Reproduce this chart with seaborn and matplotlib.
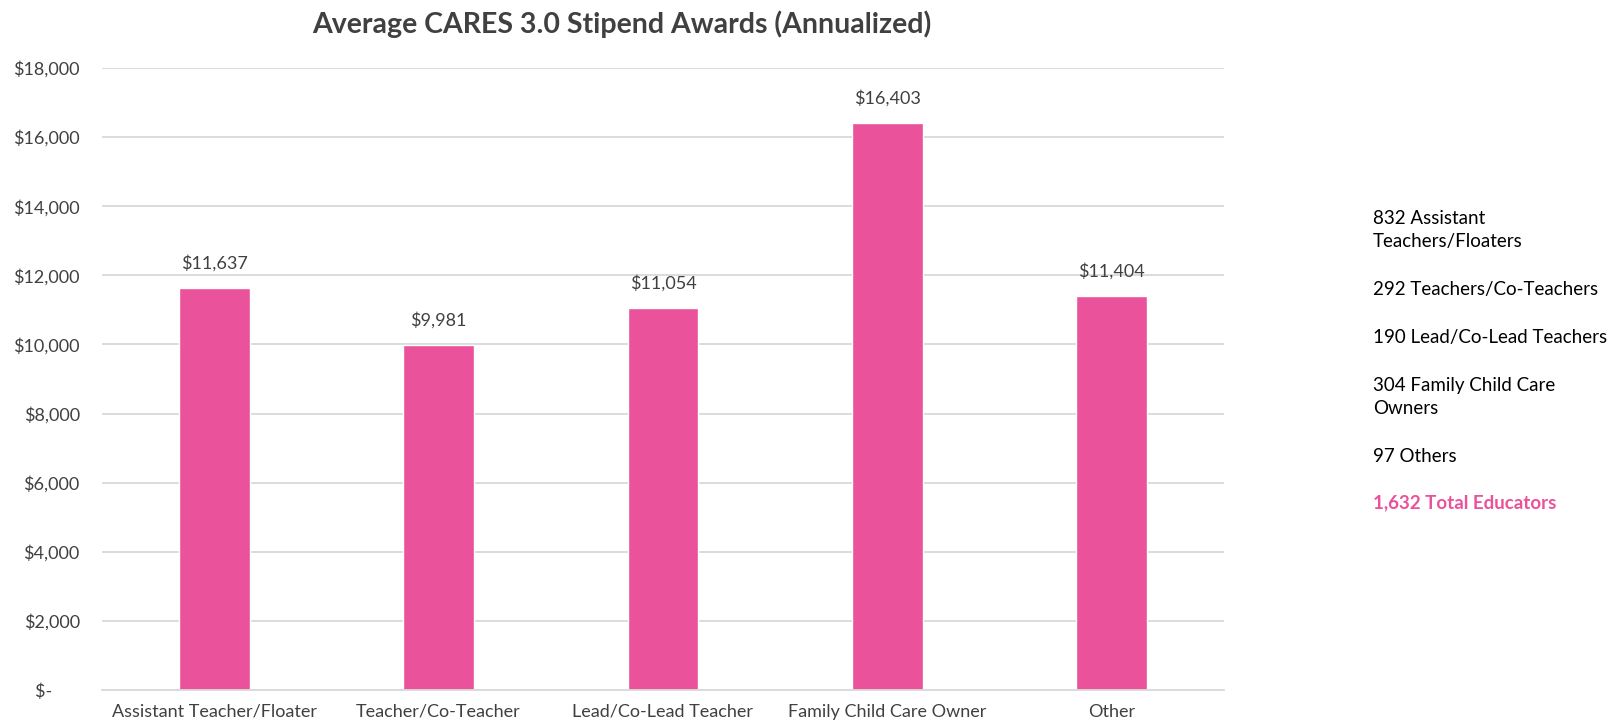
import matplotlib
matplotlib.use('Agg')
from matplotlib import pyplot as plt
from matplotlib.ticker import FuncFormatter
import seaborn as sns
import pandas as pd

roles = ['Assistant Teacher/Floater', 'Teacher/Co-Teacher', 'Lead/Co-Lead Teacher',
         'Family Child Care Owner', 'Other']
avg_award = [11637, 9981, 11054, 16403, 11404]

side_notes = ['832 Assistant\nTeachers/Floaters', '292 Teachers/Co-Teachers',
              '190 Lead/Co-Lead Teachers', '304 Family Child Care\nOwners', '97 Others']
total_note = '1,632 Total Educators'

pink = '#EA539B'
gray = '#404040'

sns.set_theme(style='white')
plt.rcParams['font.family'] = ['Lato', 'DejaVu Sans']

df = pd.DataFrame({'role': roles, 'award': avg_award})

fig = plt.figure(figsize=(16.18, 7.26), dpi=100)
ax = fig.add_axes([102 / 1618, 1 - 690 / 726, 1122 / 1618, (690 - 68) / 726])

sns.barplot(data=df, x='role', y='award', color=pink, width=0.315, ax=ax,
            saturation=1, errorbar=None)

ax.set_ylim(0, 18000)
ax.set_xlim(-0.5, len(roles) - 0.5)
ax.set_yticks(range(0, 18001, 2000))
ax.yaxis.set_major_formatter(FuncFormatter(lambda v, p: '$-      ' if v == 0 else f'${v:,.0f}'))
ax.grid(axis='y', color='#d9d9d9', linewidth=1.3)
ax.set_axisbelow(True)
for s in ['top', 'right', 'left']:
    ax.spines[s].set_visible(False)
ax.spines['bottom'].set_color('#d9d9d9')
ax.spines['bottom'].set_linewidth(1.3)
ax.tick_params(axis='both', length=0, labelsize=13, colors=gray)
ax.tick_params(axis='y', pad=16)
ax.tick_params(axis='x', pad=10)
ax.set_xlabel('')
ax.set_ylabel('')

for p, v in zip(ax.patches, avg_award):
    ax.annotate(f'${v:,}', (p.get_x() + p.get_width() / 2, p.get_height()),
                xytext=(0, 12), textcoords='offset points', ha='center', va='bottom',
                fontsize=13, color=gray)

fig.text(622 / 1618, 1 - 24 / 726, 'Average CARES 3.0 Stipend Awards (Annualized)',
         ha='center', va='center', fontsize=20.5, fontweight='bold', color=gray)

y_positions = [230, 290, 337, 397, 456]
for txt, y in zip(side_notes, y_positions):
    fig.text(1373 / 1618, 1 - y / 726, txt, ha='left', va='center', fontsize=13.5,
             color='black', linespacing=1.45)
fig.text(1373 / 1618, 1 - 503 / 726, total_note, ha='left', va='center', fontsize=13.5,
         color=pink, fontweight='bold')

fig.savefig('out.png', dpi=100)
